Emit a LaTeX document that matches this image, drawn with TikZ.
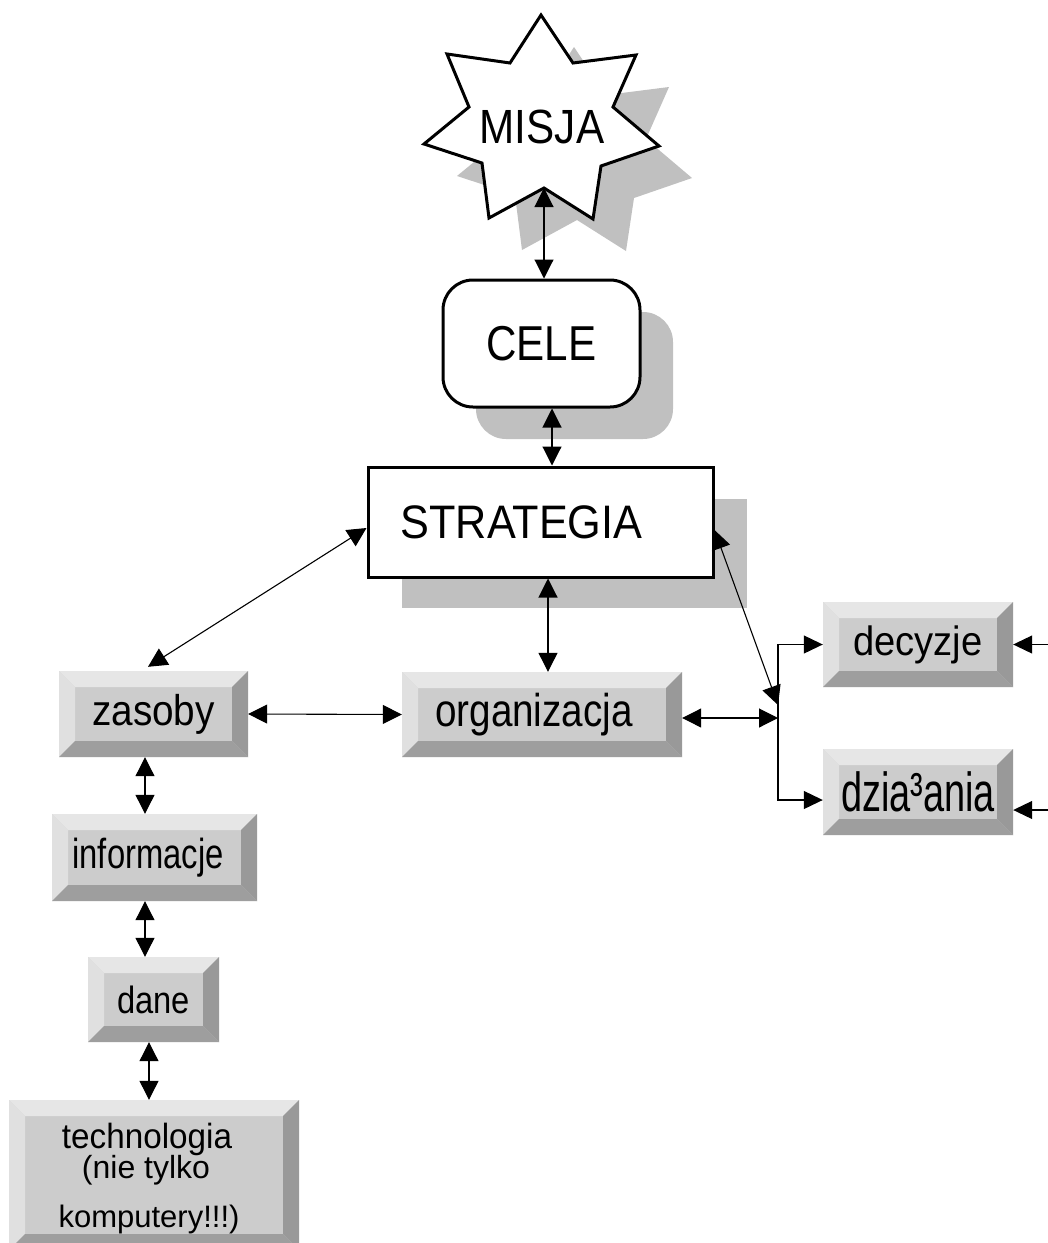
\documentclass[tikz,border=0pt]{standalone}
\usepackage{fontspec}
\setmainfont{Liberation Sans}
\usepackage{graphicx}
\usetikzlibrary{arrows.meta}
\definecolor{shadowgray}{HTML}{C0C0C0}
\definecolor{face}{HTML}{CCCCCC}
\definecolor{bevtop}{HTML}{E6E6E6}
\definecolor{bevleft}{HTML}{E0E0E0}
\definecolor{bevright}{HTML}{999999}
\definecolor{bevbottom}{HTML}{9E9E9E}
\newcommand{\lbl}[3]{{\fontsize{#1pt}{#1pt}\selectfont\scalebox{#2}[1]{#3}}}
\tikzset{
  btn/.style={rectangle, inner sep=0pt, fill=face, path picture={
    \fill[bevtop] (path picture bounding box.north west) -- (path picture bounding box.north east)
      -- ([shift={(-16pt,-16pt)}]path picture bounding box.north east)
      -- ([shift={(16pt,-16pt)}]path picture bounding box.north west) -- cycle;
    \fill[bevleft] (path picture bounding box.north west)
      -- ([shift={(16pt,-16pt)}]path picture bounding box.north west)
      -- ([shift={(16pt,16pt)}]path picture bounding box.south west)
      -- (path picture bounding box.south west) -- cycle;
    \fill[bevright] (path picture bounding box.north east) -- (path picture bounding box.south east)
      -- ([shift={(-16pt,16pt)}]path picture bounding box.south east)
      -- ([shift={(-16pt,-16pt)}]path picture bounding box.north east) -- cycle;
    \fill[bevbottom] (path picture bounding box.south west) -- (path picture bounding box.south east)
      -- ([shift={(-16pt,16pt)}]path picture bounding box.south east)
      -- ([shift={(16pt,16pt)}]path picture bounding box.south west) -- cycle;
  }},
  mainbox/.style={draw=black, line width=3pt, fill=white, inner sep=0pt},
  darr/.style={line width=1.1pt, draw=black,
    {Triangle[length=19pt,width=19pt]}-{Triangle[length=19pt,width=19pt]}},
  sarr/.style={line width=1.1pt, draw=black, -{Triangle[length=19pt,width=18pt]}},
  plainline/.style={line width=1.1pt, draw=black}
}
\begin{document}
\begin{tikzpicture}[x=1pt,y=-1pt]
\clip (0,0) rectangle (1048,1243);
\fill[white] (0,0) rectangle (1048,1243);

% shadows
\fill[shadowgray, shift={(33,32)}] (541,15) -- (573,63) -- (636,55) -- (613,107) -- (659,146) -- (601,166) -- (593,219) -- (544,188) -- (489,218) -- (482,163) -- (424,144) -- (469,107) -- (447,54) -- (510,63) -- cycle;
\fill[shadowgray, rounded corners=30pt] (476,312) rectangle (673,439);
\fill[shadowgray] (402,499) rectangle (747,608);

% star
\draw[line width=3pt, fill=white] (541,15) -- (573,63) -- (636,55) -- (613,107) -- (659,146) -- (601,166) -- (593,219) -- (544,188) -- (489,218) -- (482,163) -- (424,144) -- (469,107) -- (447,54) -- (510,63) -- cycle;
\node (misja) at (542,127) {\lbl{48}{0.88}{MISJA}};
\coordinate (misjab) at (544,188);

% main boxes
\node[mainbox, rounded corners=30pt, minimum width=197pt, minimum height=127pt] (cele) at (541.5,343.5) {\lbl{49}{0.86}{CELE}};
\node[mainbox, minimum width=345pt, minimum height=110pt] (strategia) at (540.5,522) {\lbl{47}{0.92}{STRATEGIA}\hspace*{38pt}};

% buttons
\node[btn, minimum width=189pt, minimum height=86pt] (zasoby) at (153.5,714) {\lbl{43}{0.9}{zasoby}};
\node[btn, minimum width=280pt, minimum height=85pt] (organizacja) at (542,714.5) {\lbl{46}{0.84}{organizacja}\hspace*{16pt}};
\node[btn, minimum width=205pt, minimum height=87pt] (informacje) at (154.5,857.5) {\lbl{42}{0.78}{informacje}\hspace*{13pt}};
\node[btn, minimum width=131pt, minimum height=85pt] (dane) at (153.5,999.5) {\lbl{38}{0.86}{dane}};
\node[btn, minimum width=290pt, minimum height=150pt] (tech) at (154,1175) {};
\node[anchor=base, inner sep=0pt] (tech1) at (147,1148) {\lbl{35}{0.95}{technologia}};
\node[anchor=base, inner sep=0pt] (tech2) at (146,1178) {\lbl{32}{1}{(nie tylko}};
\node[anchor=base, inner sep=0pt] (tech3) at (149,1227) {\lbl{31}{1}{komputery!!!)}};
\node[btn, minimum width=190pt, minimum height=85pt] (decyzje) at (918,644.5) {\lbl{41}{0.93}{decyzje}};
\node[btn, minimum width=190pt, minimum height=86pt] (dzialania) at (918,792) {\lbl{55}{0.69}{dzia³ania}};

% connectors
\draw[darr] (misjab) -- (misjab |- cele.north);
\draw[darr] ([xshift=10.5pt]cele.south) -- ([xshift=11.5pt]strategia.north);
\draw[darr] ([yshift=-6pt]strategia.west) -- ([xshift=-5.5pt,yshift=4pt]zasoby.north);
\draw[darr] ([xshift=7.5pt]strategia.south) -- ([xshift=6pt]organizacja.north);
\draw[darr] (zasoby.east) -- (organizacja.west);
\coordinate (j) at (778,718);
\coordinate (jd) at (778,705);
\draw[darr] ([yshift=-3.5pt]organizacja.east) -- (j);
\draw[darr] ([yshift=-8pt]strategia.east) -- (jd);
\draw[sarr] (j) |- (decyzje.west);
\draw[sarr] (j) |- ([yshift=-8pt]dzialania.west);
\coordinate (rin1) at (1050,644.5);
\coordinate (rin2) at (1050,810);
\draw[sarr] (rin1) -- (decyzje.east);
\draw[sarr] (rin2) -- (rin2 -| dzialania.east);
\draw[darr] ([xshift=-8.5pt]zasoby.south) -- ([xshift=-9.5pt]informacje.north);
\draw[darr] ([xshift=-9.5pt]informacje.south) -- ([xshift=-8.5pt]dane.north);
\draw[darr] ([xshift=-4.5pt]dane.south) -- ([xshift=-5pt]tech.north);
\end{tikzpicture}
\end{document}
